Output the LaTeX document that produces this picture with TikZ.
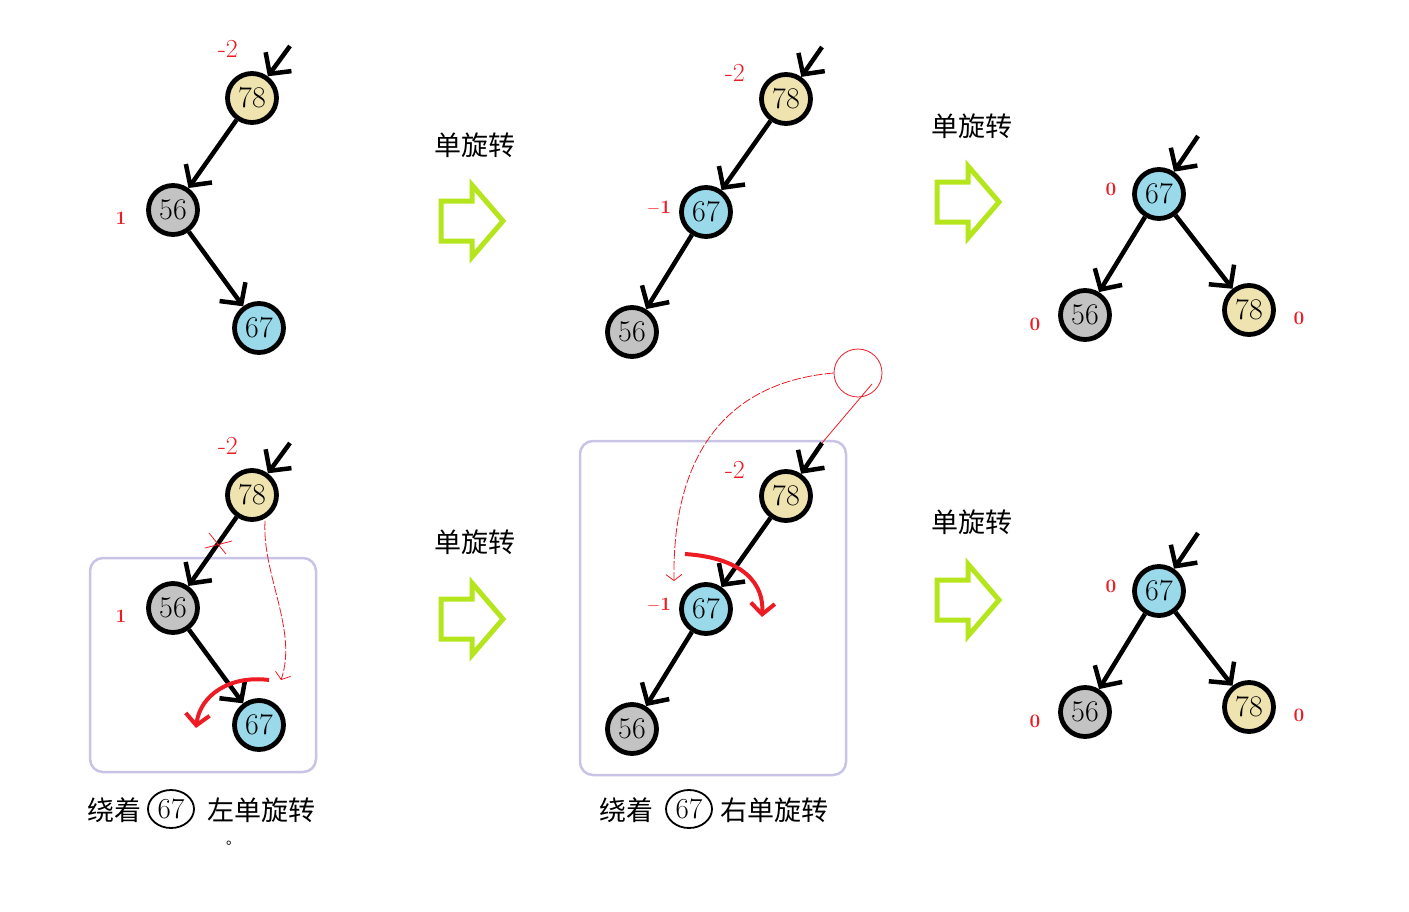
\documentclass[tikz,border=0pt]{standalone}
\usepackage{fontspec}
\newfontfamily\cjk{Noto Sans CJK SC}
\usetikzlibrary{arrows.meta,shapes.geometric}
\definecolor{cTan}{HTML}{EFE4B0}
\definecolor{cGray}{HTML}{C3C3C3}
\definecolor{cBlue}{HTML}{99D9EA}
\definecolor{cRed}{HTML}{ED1C24}
\definecolor{cGreen}{HTML}{B5E61D}
\definecolor{cBox}{HTML}{C8C4E6}
\begin{document}
\begin{tikzpicture}[x=1pt,y=-1pt,
  tnode/.style={circle, draw, line width=4.8pt, minimum size=49pt, inner sep=0pt, font=\fontsize{30}{30}\selectfont},
  n78/.style={tnode, fill=cTan},
  n56/.style={tnode, fill=cGray},
  n67/.style={tnode, fill=cBlue},
  link/.style={line width=4.5pt, -{Straight Barb[length=15pt,width=32pt]}},
  bal/.style={text=cRed, font=\fontsize{26}{26}\selectfont, inner sep=0pt},
  smallbal/.style={text=cRed, font=\bfseries\fontsize{19}{19}\selectfont, inner sep=0pt},
  captxt/.style={font=\cjk\fontsize{27}{27}\selectfont, inner sep=0pt},
  circnum/.style={draw, ellipse, line width=1.8pt, minimum width=46pt, minimum height=38pt, inner sep=0pt, font=\fontsize{29}{29}\selectfont},
  bigarrow/.style={draw=cGreen, line width=5pt, line join=miter},
  frame/.style={draw=cBox, line width=2.5pt, rounded corners=13pt},
  redarc/.style={draw=cRed, line width=4pt, -{Straight Barb[length=11pt,width=24pt]}},
  reddash/.style={draw=cRed, line width=0.8pt, dash pattern=on 9pt off 2pt, -{Straight Barb[length=6pt,width=16pt]}},
  redthin/.style={draw=cRed, line width=0.8pt}
]
\useasboundingbox (0,0) rectangle (1409,911);

% ---------- top-left tree ----------
\node[n78] (a78) at (252,98) {78};
\node[n56] (a56) at (173,210) {56};
\node[n67] (a67) at (259,328) {67};
\coordinate (ain) at (290,46);
\draw[link] (ain) -- (a78);
\draw[link] (a78) -- (a56);
\draw[link] (a56) -- (a67);
\node[bal] (al1) at (228,49) {-2};
\node[smallbal] (al2) at (121,218) {1};

% ---------- top-middle tree ----------
\node[n78] (b78) at (786,99) {78};
\node[n67] (b67) at (706,212) {67};
\node[n56] (b56) at (632,332) {56};
\coordinate (bin) at (822,47);
\draw[link] (bin) -- (b78);
\draw[link] (b78) -- (b67);
\draw[link] (b67) -- (b56);
\node[bal] (bl1) at (735,73) {-2};
\node[smallbal] (bl2) at (659,208) {$-$1};

% ---------- top-right tree ----------
\node[n67] (c67) at (1159,194) {67};
\node[n56] (c56) at (1085,315) {56};
\node[n78] (c78) at (1249,310) {78};
\coordinate (cin) at (1198,136);
\draw[link] (cin) -- (c67);
\draw[link] (c67) -- (c56);
\draw[link] (c67) -- (c78);
\node[smallbal] (cl1) at (1111,189) {0};
\node[smallbal] (cl2) at (1035,324) {0};
\node[smallbal] (cl3) at (1299,318) {0};

% ---------- bottom-left tree ----------
\draw[frame] (90,558) rectangle (316,772);
\node[n78] (d78) at (252,495) {78};
\node[n56] (d56) at (173,608) {56};
\node[n67] (d67) at (259,725) {67};
\coordinate (din) at (290,443);
\draw[link] (din) -- (d78);
\draw[link] (d78) -- (d56);
\draw[link] (d56) -- (d67);
\node[bal] (dl1) at (228,446) {-2};
\node[smallbal] (dl2) at (121,616) {1};
\draw[redthin] (209,533) -- (226,554);
\draw[redthin] (205,548) -- (232,541);
\coordinate (dd1) at (265,521);
\coordinate (dd2) at (281,680);
\draw[reddash] (dd1) .. controls (262,575) and (298,630) .. (dd2);
\coordinate (dr1) at (269,680);
\coordinate (dr2) at (196,728);
\draw[redarc] (dr1) .. controls (230,675) and (200,695) .. (dr2);
\node[captxt] (dc1) at (114,810) {绕着};
\node[circnum] (dc2) at (171,809) {67};
\node[captxt] (dc3) at (261,810) {左单旋转};
\node[font=\cjk\fontsize{14}{14}\selectfont, inner sep=0pt] (dot) at (233,843) {。};

% ---------- bottom-middle tree ----------
\draw[frame] (580,441) rectangle (846,775);
\node[n78] (e78) at (786,496) {78};
\node[n67] (e67) at (706,609) {67};
\node[n56] (e56) at (632,729) {56};
\coordinate (ein) at (822,443);
\draw[link] (ein) -- (e78);
\draw[link] (e78) -- (e67);
\draw[link] (e67) -- (e56);
\node[bal] (el1) at (735,470) {-2};
\node[smallbal] (el2) at (659,605) {$-$1};
\node[redthin, draw, circle, minimum size=48pt, inner sep=0pt] (ecirc) at (858,373) {};
\coordinate (et1) at (872,384);
\draw[redthin] (et1) -- (ein);
\coordinate (ed2) at (674,581);
\draw[reddash] (ecirc.west) .. controls (730,382) and (672,450) .. (ed2);
\coordinate (er1) at (685,554);
\coordinate (er2) at (762,617);
\draw[redarc] (er1) .. controls (745,558) and (764,585) .. (er2);
\node[captxt] (ec1) at (626,810) {绕着};
\node[circnum] (ec2) at (689,809) {67};
\node[captxt] (ec3) at (774,810) {右单旋转};

% ---------- bottom-right tree ----------
\node[n67] (f67) at (1159,591) {67};
\node[n56] (f56) at (1085,712) {56};
\node[n78] (f78) at (1249,707) {78};
\coordinate (fin) at (1198,533);
\draw[link] (fin) -- (f67);
\draw[link] (f67) -- (f56);
\draw[link] (f67) -- (f78);
\node[smallbal] (fl1) at (1111,586) {0};
\node[smallbal] (fl2) at (1035,721) {0};
\node[smallbal] (fl3) at (1299,715) {0};

% ---------- green arrows and labels ----------
\foreach \dx/\dy in {0/0, 496/-19, 0/398, 496/379}{
  \draw[bigarrow, shift={(\dx,\dy)}] (441,201) -- (472,201) -- (472,185) -- (503,221) -- (472,257) -- (472,241) -- (441,241) -- cycle;
}
\node[captxt] (t1) at (475,145) {单旋转};
\node[captxt] (t2) at (972,126) {单旋转};
\node[captxt] (t3) at (475,542) {单旋转};
\node[captxt] (t4) at (972,522) {单旋转};
\end{tikzpicture}
\end{document}
